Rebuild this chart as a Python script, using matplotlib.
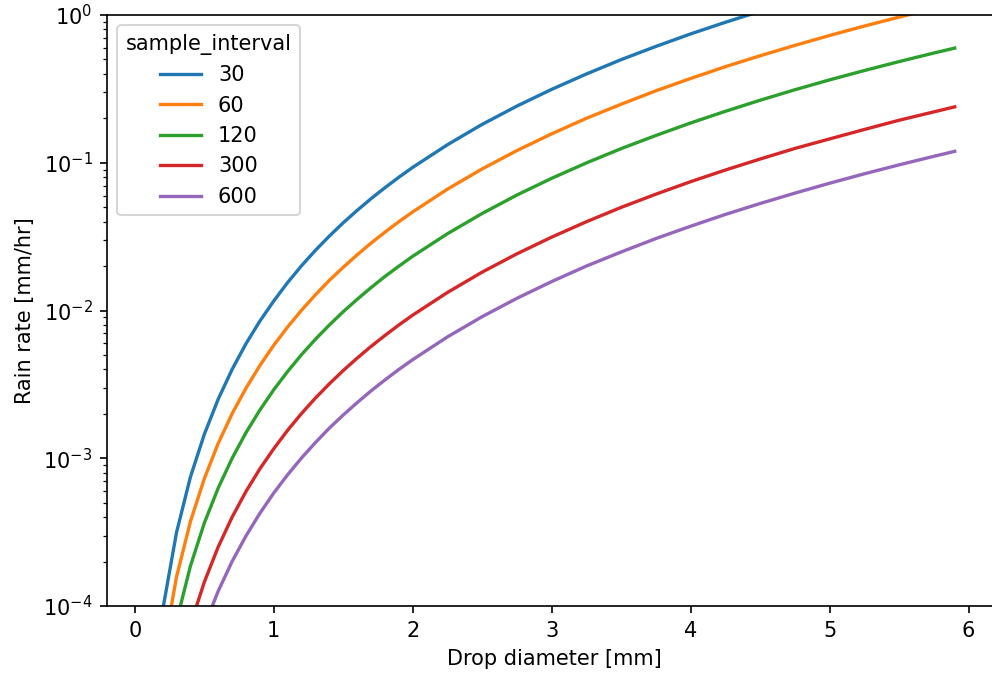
"""Rain rate produced by a single drop for several sample intervals."""

import matplotlib

matplotlib.use("Agg")
import matplotlib.pyplot as plt
from matplotlib.ticker import LogLocator, NullFormatter

# drop diameter [mm]
diameter = [0.1, 0.2, 0.3, 0.4, 0.5, 0.6, 0.7, 0.8, 0.9, 1.0,
            1.1, 1.2, 1.3, 1.4, 1.5, 1.6, 1.7, 1.8, 1.9, 2.0,
            2.25, 2.5, 2.75, 3.0, 3.25, 3.5, 3.75, 4.0, 4.25, 4.5,
            4.75, 5.0, 5.25, 5.5, 5.75, 5.9]

sample_intervals = [30, 60, 120, 300, 600]

# rain rate [mm/hr]
rate_30 = [1.16e-5, 9.31e-5, 3.14e-4, 7.45e-4, 1.45e-3, 2.51e-3, 3.99e-3, 5.96e-3, 8.48e-3, 1.16e-2,
           1.548e-2, 2.01e-2, 2.556e-2, 3.19e-2, 3.926e-2, 4.76e-2, 5.715e-2, 6.78e-2, 7.979e-2, 9.31e-2,
           0.1325, 0.182, 0.242, 0.314, 0.399, 0.499, 0.613, 0.745, 0.893, 1.06,
           1.25, 1.45, 1.68, 1.94, 2.21, 2.39]
rate_60 = [5.8e-6, 4.65e-5, 1.57e-4, 3.72e-4, 7.27e-4, 1.26e-3, 2.0e-3, 2.98e-3, 4.24e-3, 5.82e-3,
           7.74e-3, 1.005e-2, 1.278e-2, 1.60e-2, 1.963e-2, 2.38e-2, 2.858e-2, 3.39e-2, 3.99e-2, 4.65e-2,
           6.63e-2, 9.09e-2, 0.121, 0.157, 0.200, 0.249, 0.307, 0.372, 0.447, 0.530,
           0.623, 0.727, 0.842, 0.968, 1.106, 1.195]
rate_120 = [2.9e-6, 2.33e-5, 7.85e-5, 1.86e-4, 3.64e-4, 6.28e-4, 9.98e-4, 1.49e-3, 2.12e-3, 2.91e-3,
            3.87e-3, 5.03e-3, 6.39e-3, 7.98e-3, 9.82e-3, 1.19e-2, 1.429e-2, 1.70e-2, 1.995e-2, 2.33e-2,
            3.31e-2, 4.54e-2, 6.05e-2, 7.85e-2, 9.98e-2, 0.1247, 0.153, 0.186, 0.223, 0.265,
            0.312, 0.364, 0.421, 0.484, 0.553, 0.597]
rate_300 = [1.16e-6, 9.31e-6, 3.14e-5, 7.45e-5, 1.45e-4, 2.51e-4, 3.99e-4, 5.96e-4, 8.48e-4, 1.16e-3,
            1.548e-3, 2.01e-3, 2.556e-3, 3.19e-3, 3.926e-3, 4.76e-3, 5.715e-3, 6.78e-3, 7.979e-3, 9.31e-3,
            1.325e-2, 1.82e-2, 2.42e-2, 3.14e-2, 3.99e-2, 4.99e-2, 6.13e-2, 7.45e-2, 8.93e-2, 0.106,
            0.125, 0.145, 0.168, 0.194, 0.221, 0.239]
rate_600 = [5.8e-7, 4.65e-6, 1.57e-5, 3.72e-5, 7.27e-5, 1.26e-4, 2.0e-4, 2.98e-4, 4.24e-4, 5.82e-4,
            7.74e-4, 1.005e-3, 1.278e-3, 1.60e-3, 1.963e-3, 2.38e-3, 2.858e-3, 3.39e-3, 3.99e-3, 4.65e-3,
            6.63e-3, 9.09e-3, 1.21e-2, 1.57e-2, 2.00e-2, 2.49e-2, 3.07e-2, 3.72e-2, 4.47e-2, 5.30e-2,
            6.23e-2, 7.27e-2, 8.42e-2, 9.68e-2, 0.1106, 0.1195]

rates = [rate_30, rate_60, rate_120, rate_300, rate_600]


def main() -> None:
    fig = plt.figure(figsize=(992 / 150, 677 / 150), dpi=150)
    ax = fig.add_axes([107 / 992, 71 / 677, 895 / 992, 591 / 677])

    for interval, rate in zip(sample_intervals, rates):
        ax.plot(diameter, rate, linewidth=1.6, label=str(interval))

    ax.set_yscale("log")
    ax.set_ylim(1e-4, 1)
    ax.yaxis.set_minor_locator(LogLocator(base=10, subs=range(2, 10), numticks=12))
    ax.yaxis.set_minor_formatter(NullFormatter())
    ax.set_xlim(-0.2, 6.24)
    ax.set_xticks(range(7))
    ax.set_xlabel("Drop diameter [mm]")
    ax.set_ylabel("Rain rate [mm/hr]")
    ax.legend(title="sample_interval", loc="upper left")

    fig.savefig("out.png", dpi=150)
    plt.close(fig)


if __name__ == "__main__":
    main()
